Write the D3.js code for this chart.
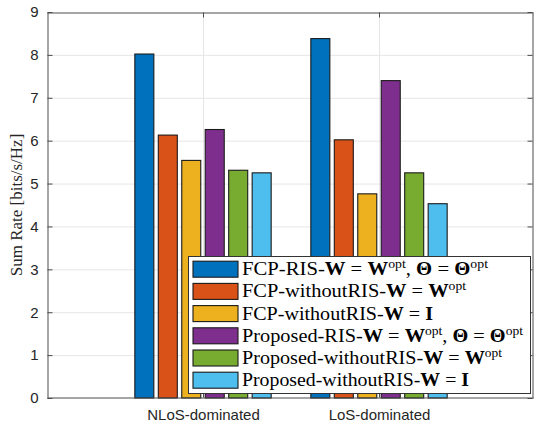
<!DOCTYPE html>
<html>
<head>
<meta charset="utf-8">
<script src="https://cdn.jsdelivr.net/npm/d3@7"></script>
<style>
  html, body { margin: 0; padding: 0; background: #fff; }
  svg { display: block; }
</style>
</head>
<body>
<svg id="chart" width="534" height="423"></svg>
<script>
// Scenarios on the x axis
const categories = ["NLoS-dominated", "LoS-dominated"];

// Sum rate (bits/s/Hz) per scheme, one entry per scenario
const fcpRis          = [8.02, 8.38];
const fcpNoRisWopt    = [6.13, 6.02];
const fcpNoRisWI      = [5.54, 4.76];
const proposedRis     = [6.26, 7.40];
const propNoRisWopt   = [5.31, 5.25];
const propNoRisWI     = [5.25, 4.53];

const seriesValues = [fcpRis, fcpNoRisWopt, fcpNoRisWI, proposedRis, propNoRisWopt, propNoRisWI];
const seriesColors = ["#0072BD", "#D95319", "#EDB120", "#7E2F8E", "#77AC30", "#4DBEEE"];

// Legend labels as runs of [text, style]: n = normal, b = bold math, s = superscript
const legendLabels = [
  [["FCP-RIS-", "n"], ["W", "b"], [" = ", "n"], ["W", "b"], ["opt", "s"], [", ", "n"], ["Θ", "b"], [" = ", "n"], ["Θ", "b"], ["opt", "s"]],
  [["FCP-withoutRIS-", "n"], ["W", "b"], [" = ", "n"], ["W", "b"], ["opt", "s"]],
  [["FCP-withoutRIS-", "n"], ["W", "b"], [" = ", "n"], ["I", "b"]],
  [["Proposed-RIS-", "n"], ["W", "b"], [" = ", "n"], ["W", "b"], ["opt", "s"], [", ", "n"], ["Θ", "b"], [" = ", "n"], ["Θ", "b"], ["opt", "s"]],
  [["Proposed-withoutRIS-", "n"], ["W", "b"], [" = ", "n"], ["W", "b"], ["opt", "s"]],
  [["Proposed-withoutRIS-", "n"], ["W", "b"], [" = ", "n"], ["I", "b"]]
];

const yTicks = [0, 1, 2, 3, 4, 5, 6, 7, 8, 9];
const yLabel = "Sum Rate [bits/s/Hz]";

const svg = d3.select("#chart");
const plot = { left: 47, right: 533, top: 12, bottom: 398 };

// Category axis: 1 and 2 are the scenario positions
const x = d3.scaleLinear()
  .domain([1 - 156 / 176, 2 + 154 / 176])
  .range([plot.left, plot.right]);
const y = d3.scaleLinear().domain([0, 9]).range([plot.bottom, plot.top]);

const groupWidth = x(1.8) - x(1);
const xs = d3.scaleBand()
  .domain(d3.range(seriesValues.length))
  .range([-groupWidth / 2, groupWidth / 2])
  .paddingInner(0.19)
  .paddingOuter(0.095);

const sans = "'Liberation Sans', Arial, Helvetica, sans-serif";
const serif = "'Liberation Serif', 'Times New Roman', serif";

// Grid lines
svg.append("g").selectAll("line.hg").data(yTicks.slice(1, -1)).join("line")
  .attr("x1", plot.left).attr("x2", plot.right)
  .attr("y1", d => y(d) + 0.5).attr("y2", d => y(d) + 0.5)
  .attr("stroke", "#e6e6e6").attr("stroke-width", 1);
svg.append("g").selectAll("line.vg").data(categories).join("line")
  .attr("x1", (d, i) => Math.round(x(i + 1)) + 0.5).attr("x2", (d, i) => Math.round(x(i + 1)) + 0.5)
  .attr("y1", plot.top).attr("y2", plot.bottom)
  .attr("stroke", "#e6e6e6").attr("stroke-width", 1);

// Bars
const barData = [];
seriesValues.forEach((vals, s) => vals.forEach((v, c) => barData.push({ s, c, v })));
svg.append("g").selectAll("rect").data(barData).join("rect")
  .attr("x", d => x(d.c + 1) + xs(d.s))
  .attr("width", xs.bandwidth())
  .attr("y", d => y(d.v))
  .attr("height", d => y(0) - y(d.v))
  .attr("fill", d => seriesColors[d.s])
  .attr("stroke", "#1a1a1a")
  .attr("stroke-width", 1.1);

// Axes box
const axisColor = "#4d4d4d";
const tickLen = 5;
const yAxisL = d3.axisLeft(y).tickValues(yTicks).tickSizeInner(-tickLen).tickSizeOuter(0).tickPadding(9);
const gL = svg.append("g").attr("transform", `translate(${plot.left + 0.5},0)`).call(yAxisL);
gL.select(".domain").attr("stroke", axisColor);
gL.selectAll(".tick line").attr("stroke", axisColor);
gL.selectAll(".tick text").attr("font-family", sans).attr("font-size", 15).attr("fill", "#262626");

const yAxisR = d3.axisRight(y).tickValues(yTicks).tickSizeInner(-tickLen).tickSizeOuter(0).tickFormat("");
const gR = svg.append("g").attr("transform", `translate(${plot.right - 0.5},0)`).call(yAxisR);
gR.select(".domain").attr("stroke", axisColor);
gR.selectAll(".tick line").attr("stroke", axisColor);

const xAxisB = d3.axisBottom(x).tickValues([1, 2]).tickFormat((d) => categories[d - 1])
  .tickSizeInner(-tickLen).tickSizeOuter(0).tickPadding(12);
const gB = svg.append("g").attr("transform", `translate(0,${plot.bottom - 0.5})`).call(xAxisB);
gB.select(".domain").attr("stroke", axisColor);
gB.selectAll(".tick line").attr("stroke", axisColor);
gB.selectAll(".tick text").attr("font-family", sans).attr("font-size", 15).attr("fill", "#262626");

const xAxisT = d3.axisTop(x).tickValues([1, 2]).tickFormat("").tickSizeInner(-tickLen).tickSizeOuter(0);
const gT = svg.append("g").attr("transform", `translate(0,${plot.top + 0.5})`).call(xAxisT);
gT.select(".domain").attr("stroke", axisColor);
gT.selectAll(".tick line").attr("stroke", axisColor);

// Y label
svg.append("text")
  .attr("transform", `translate(22,${(plot.top + plot.bottom) / 2}) rotate(-90)`)
  .attr("text-anchor", "middle")
  .attr("font-family", serif).attr("font-size", 17).attr("fill", "#262626")
  .text(yLabel);

// Legend
const legend = { x: 188, y: 256, w: 342, h: 137, rowStep: 22.2, firstRow: 269.2, textX: 242 };
// rendered width of each legend entry, stretched to the LaTeX-style spacing
const legendTextWidths = [246, 224, 191, 281, 260, 227];
const lg = svg.append("g");
lg.append("rect")
  .attr("x", legend.x + 0.5).attr("y", legend.y + 0.5)
  .attr("width", legend.w).attr("height", legend.h)
  .attr("fill", "#fff").attr("stroke", "#333").attr("stroke-width", 1);

legendLabels.forEach((runs, i) => {
  const cy = legend.firstRow + i * legend.rowStep;
  lg.append("rect")
    .attr("x", 193).attr("y", cy - 8)
    .attr("width", 45).attr("height", 16)
    .attr("fill", seriesColors[i]).attr("stroke", "#1a1a1a").attr("stroke-width", 1.1);
  const t = lg.append("text")
    .attr("x", legend.textX).attr("y", cy + 6)
    .attr("font-family", serif).attr("font-size", 18).attr("fill", "#000")
    .attr("textLength", legendTextWidths[i])
    .attr("lengthAdjust", "spacingAndGlyphs");
  let raised = false;
  runs.forEach(([txt, style]) => {
    const ts = t.append("tspan").text(txt).style("white-space", "pre");
    if (style === "b") ts.attr("font-weight", "bold");
    if (style === "s") {
      ts.attr("font-size", 12).attr("dy", -7);
      raised = true;
    } else if (raised) {
      ts.attr("dy", 7);
      raised = false;
    }
  });
});
</script>
</body>
</html>
